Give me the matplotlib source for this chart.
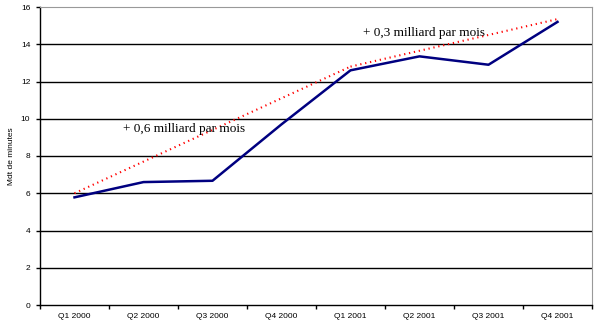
import matplotlib.pyplot as plt
import numpy as np

trimestres = ["Q1 2000", "Q2 2000", "Q3 2000", "Q4 2000",
              "Q1 2001", "Q2 2001", "Q3 2001", "Q4 2001"]
minutes = [5.78, 6.6, 6.67, 9.7, 12.6, 13.35, 12.9, 15.2]

# tendances (pointillés rouges)
tend1_x = [0, 4]
tend1_y = [6.0, 12.8]
tend2_x = [4, 7]
tend2_y = [12.8, 15.35]

fig = plt.figure(figsize=(5.99, 3.3), dpi=100)
ax = fig.add_axes([40/599, 25/330, 552/599, 298/330])

x = np.arange(len(trimestres))
for yv in range(2, 16, 2):
    ax.axhline(yv, color="black", lw=1, zorder=1)
ax.plot(tend1_x, tend1_y, color="red", lw=1.5, ls=(0, (0.6, 1.8)), zorder=2)
ax.plot(tend2_x, tend2_y, color="red", lw=1.5, ls=(0, (0.6, 1.8)), zorder=2)
ax.plot(x, minutes, color="#000080", lw=1.8, zorder=3)

ax.set_xlim(-0.5, 7.5)
ax.set_ylim(0, 16)
ax.set_yticks(range(0, 17, 2))
ax.set_yticklabels([str(v) for v in range(0, 17, 2)], fontsize=6, family="Liberation Sans")
ax.set_xticks(np.arange(-0.5, 8, 1))
ax.set_xticklabels([])
ax.set_xticks(x, minor=True)
ax.set_xticklabels(trimestres, minor=True, fontsize=6, family="Liberation Sans")
ax.tick_params(axis="x", which="major", length=3, width=1, direction="out")
ax.tick_params(axis="x", which="minor", length=0, pad=6)
ax.tick_params(axis="y", length=3, width=1, direction="out", pad=4)

ax.spines["top"].set_color("#999999")
ax.spines["right"].set_color("#999999")
ax.spines["left"].set_linewidth(1)
ax.spines["bottom"].set_linewidth(1)

ax.set_ylabel("Mdt de minutes", fontsize=6, family="Liberation Sans", labelpad=4)

ax.text(0.7, 9.45, "+ 0,6 milliard par mois", fontsize=9.5, family="Liberation Serif", va="center")
ax.text(4.18, 14.6, "+ 0,3 milliard par mois", fontsize=9.5, family="Liberation Serif", va="center")

fig.savefig("out.png", dpi=100)
